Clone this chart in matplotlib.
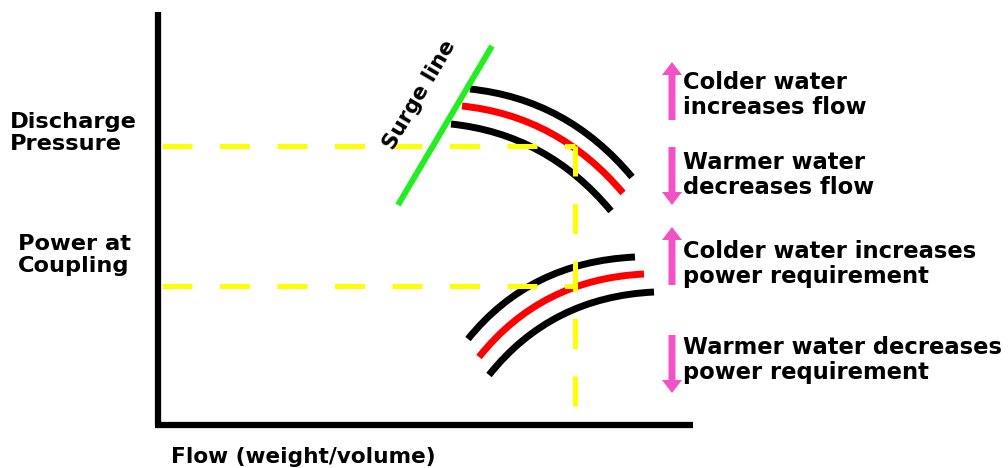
import numpy as np
import matplotlib
matplotlib.use("Agg")
import matplotlib.pyplot as plt
from matplotlib.path import Path
from matplotlib.patches import PathPatch

plt.rcParams['font.family'] = ['DejaVu Sans']

# schematic curves as quadratic bezier (start, control, end), in pixel units of the picture
pressure_curves = [
    [(470, 89), (567, 99), (632, 177)],     # colder (black)
    [(462, 106), (558, 116), (623, 193)],   # design (red)
    [(451, 124), (547, 134), (611, 211)],   # warmer (black)
]
power_curves = [
    [(468, 339), (530, 262), (635, 257)],
    [(479, 357), (541, 279), (644, 274)],
    [(489, 375), (551, 297), (654, 292)],
]
curve_colors = ['black', 'red', 'black']

surge_x = [398, 492]
surge_y = [205, 46]

op_flow = 575
op_pressure = 146
op_power = 286

arrow_x = 672
arrow_from = [120, 147, 285, 335]
arrow_to = [62, 205, 227, 393]

notes = ["Colder water\nincreases flow",
         "Warmer water\ndecreases flow",
         "Colder water increases\npower requirement",
         "Warmer water decreases\npower requirement"]
note_y = [95, 175, 264, 360]

fig = plt.figure(figsize=(10.08, 4.68), dpi=100)
ax = fig.add_axes([0, 0, 1, 1])
ax.set_xlim(0, 1008)
ax.set_ylim(468, 0)
ax.axis('off')

# axes of the diagram
ax.plot([158, 158], [12, 425], color='black', lw=4.5, solid_capstyle='butt')
ax.plot([155, 693], [425, 425], color='black', lw=4.5, solid_capstyle='butt')

# operating point guides
dash = dict(color='#ffff00', lw=3.6, dashes=(6, 5.5))
ax.plot([162, op_flow], [op_pressure, op_pressure], **dash)
ax.plot([162, op_flow], [op_power, op_power], **dash)
ax.plot([op_flow, op_flow], [op_pressure, 421], **dash)

# surge line
ax.plot(surge_x, surge_y, color='#22ee22', lw=4.3, solid_capstyle='butt')
ax.text(420, 95, "Surge line", rotation=59.5, ha='center', va='center',
        fontsize=15.5, fontweight='bold')

codes = [Path.MOVETO, Path.CURVE3, Path.CURVE3]
for group in (pressure_curves, power_curves):
    for pts, c in zip(group, curve_colors):
        ax.add_patch(PathPatch(Path(pts, codes), fill=False, edgecolor=c,
                               lw=5, capstyle='butt'))

# left labels
ax.text(10, 133, "Discharge\nPressure", ha='left', va='center', fontsize=16.2,
        fontweight='bold', linespacing=1.15)
ax.text(74, 255, "Power at\nCoupling", ha='center', va='center', fontsize=16.2,
        fontweight='bold', linespacing=1.15)
ax.text(171, 457, "Flow (weight/volume)", ha='left', va='center', fontsize=15.6,
        fontweight='bold')

# arrows + notes
for y0, y1, txt, ty in zip(arrow_from, arrow_to, notes, note_y):
    ax.arrow(arrow_x, y0, 0, y1 - y0, width=7, head_width=20, head_length=13,
             length_includes_head=True, color='#f252c8', lw=0)
    ax.text(683, ty, txt, ha='left', va='center', fontsize=16.3,
            fontweight='bold', linespacing=1.15)

fig.savefig("out.png", dpi=100)
